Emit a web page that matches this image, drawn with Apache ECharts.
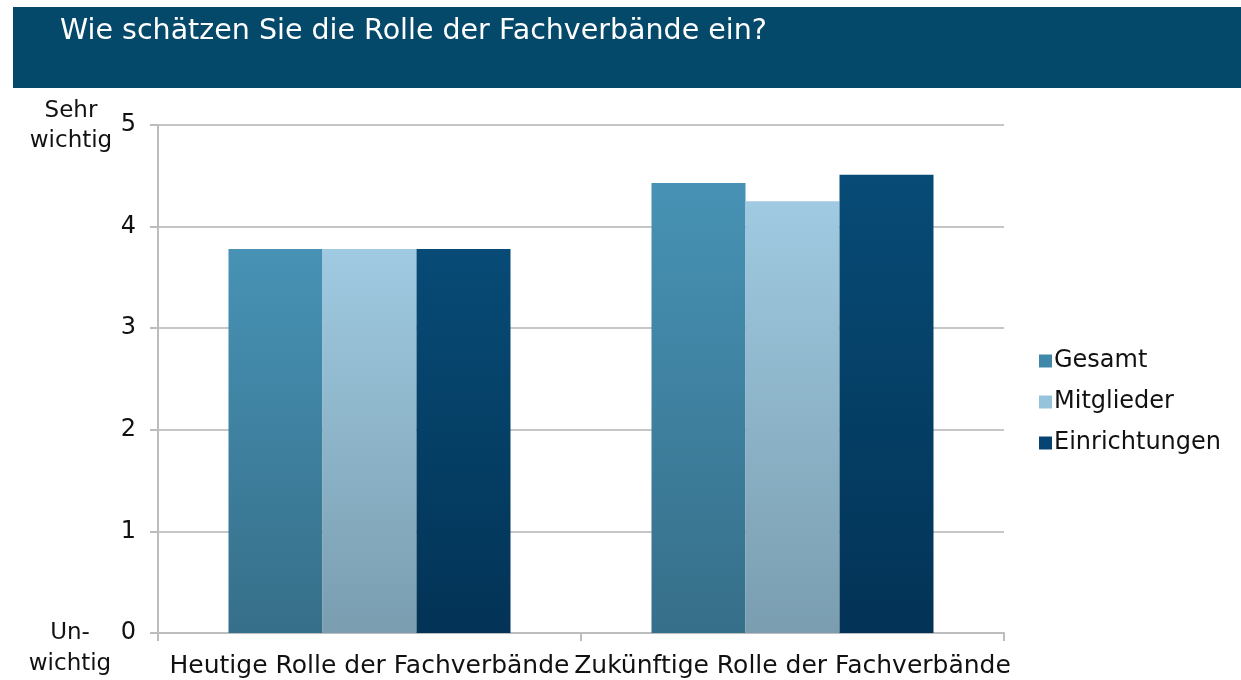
<!DOCTYPE html>
<html><head><meta charset="utf-8">
<script src="https://cdn.jsdelivr.net/npm/echarts@6/dist/echarts.min.js"></script>
<style>html,body{margin:0;padding:0;background:#fff}#c{width:1241px;height:680px}</style>
</head><body><div id="c"></div>
<script>
const title = 'Wie schätzen Sie die Rolle der Fachverbände ein?';
const categories = ['Heutige Rolle der Fachverbände', 'Zukünftige Rolle der Fachverbände'];
const seriesNames = ['Gesamt', 'Mitglieder', 'Einrichtungen'];
const gesamt = [3.78, 4.43];
const mitglieder = [3.78, 4.25];
const einrichtungen = [3.78, 4.51];
const yTop = 'Sehr\nwichtig';
const yBottom = 'Un-\nwichtig';

const font = 'DejaVu Sans';
function grad(top, bottom) {
  return new echarts.graphic.LinearGradient(0, 0, 0, 1, [{offset: 0, color: top}, {offset: 1, color: bottom}]);
}
const colors = [
  grad('#4792b5', '#366f89'),
  grad('#9fcae1', '#7a9db0'),
  grad('#074b76', '#033356')
];
const legendColors = ['#3f88aa', '#96c3dc', '#064571'];
const data = [gesamt, mitglieder, einrichtungen];

const chart = echarts.init(document.getElementById('c'));
chart.setOption({
  animation: false,
  textStyle: {fontFamily: font},
  grid: {left: 158, right: 237, top: 125, bottom: 47},
  legend: {
    orient: 'vertical', left: 1034, top: 344, itemGap: 17,
    itemWidth: 13, itemHeight: 13, icon: 'rect',
    textStyle: {fontSize: 24, color: '#111', fontFamily: font, padding: [0, 0, 0, -3]},
    data: seriesNames.map((n, i) => ({name: n, itemStyle: {color: legendColors[i]}}))
  },
  xAxis: {
    type: 'category', data: categories,
    axisLine: {lineStyle: {color: '#bdbdbd', width: 2}},
    axisTick: {show: true, length: 8, lineStyle: {color: '#bdbdbd', width: 2}},
    axisLabel: {fontSize: 25, color: '#111', margin: 21, interval: 0}
  },
  yAxis: {
    type: 'value', min: 0, max: 5, interval: 1,
    axisLine: {show: true, lineStyle: {color: '#bdbdbd', width: 2}},
    axisTick: {show: true, length: 8, lineStyle: {color: '#bdbdbd', width: 2}},
    splitLine: {lineStyle: {color: '#c6c6c6', width: 2}},
    axisLabel: {fontSize: 24, color: '#111', margin: 22}
  },
  series: seriesNames.map((n, i) => ({
    name: n, type: 'bar', data: data[i],
    barWidth: 94, barGap: '0%',
    itemStyle: {color: colors[i]}
  })),
  graphic: [
    {type: 'rect', left: 13, top: 7, shape: {width: 1228, height: 81}, style: {fill: '#04486a'}, z: -1},
    {type: 'text', left: 60, top: 17, style: {text: title, fill: '#fff', font: '28.5px "DejaVu Sans"'}},
    {type: 'text', x: 71, y: 96, style: {text: yTop, fill: '#111', font: '23px "DejaVu Sans"', align: 'center', lineHeight: 30}},
    {type: 'text', x: 70, y: 618, style: {text: yBottom, fill: '#111', font: '23px "DejaVu Sans"', align: 'center', lineHeight: 31}}
  ]
});
</script></body></html>
